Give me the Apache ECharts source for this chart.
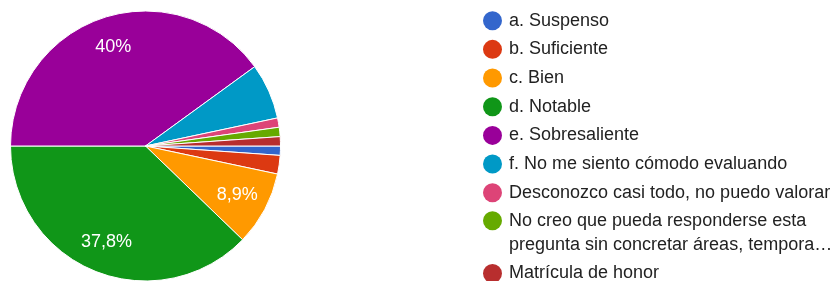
<!DOCTYPE html>
<html>
<head>
<meta charset="utf-8">
<script src="https://cdn.jsdelivr.net/npm/echarts@6/dist/echarts.min.js"></script>
<style>
html,body{margin:0;padding:0;background:#fff;}
#chart{width:835px;height:281px;}
</style>
</head>
<body>
<div id="chart"></div>
<script>
var categories = [
  'a. Suspenso',
  'b. Suficiente',
  'c. Bien',
  'd. Notable',
  'e. Sobresaliente',
  'f. No me siento cómodo evaluando',
  'Desconozco casi todo, no puedo valorar',
  'No creo que pueda responderse esta pregunta sin concretar áreas, tempora…',
  'Matrícula de honor'
];
var counts = [1, 2, 8, 34, 36, 6, 1, 1, 1];
var colors = ['#3366cc', '#dc3912', '#ff9900', '#109618', '#990099', '#0099c6', '#dd4477', '#66aa00', '#b82e2e'];

var total = counts.reduce(function (a, b) { return a + b; }, 0);
function pctText(v) {
  var s = (v / total * 100).toFixed(1);
  if (s.slice(-2) === '.0') s = s.slice(0, -2);
  return s.replace('.', ',') + '%';
}
var pieData = categories.map(function (c, i) {
  return { name: c, value: counts[i], itemStyle: { color: colors[i] } };
});
var labelData = categories.map(function (c, i) {
  return { name: c, value: counts[i] };
});

var FONT = 'Liberation Sans, Arial, sans-serif';
var legendText = { fontFamily: FONT, fontSize: 18, color: '#222', lineHeight: 20, padding: [0, 0, 0, 2] };
var legendItemStyle = { borderWidth: 0 };

var chart = echarts.init(document.getElementById('chart'), null, { renderer: 'canvas' });
chart.setOption({
  backgroundColor: '#fff',
  animation: false,
  legend: [
    {
      orient: 'vertical', left: 483, top: 10.7, padding: 0,
      itemWidth: 19, itemHeight: 19, itemGap: 8.67, icon: 'circle',
      itemStyle: legendItemStyle,
      data: categories.slice(0, 7),
      textStyle: legendText
    },
    {
      orient: 'vertical', left: 483, top: 184.7, padding: 0,
      itemWidth: 19, itemHeight: 19, icon: 'circle',
      itemStyle: legendItemStyle,
      data: [categories[7]],
      formatter: function (n) { return '\n' + n.replace(' pregunta', '\npregunta'); },
      textStyle: { fontFamily: FONT, fontSize: 18, color: '#222', lineHeight: 24, padding: [0, 0, 0, 2] }
    },
    {
      orient: 'vertical', left: 483, top: 263.5, padding: 0,
      itemWidth: 19, itemHeight: 19, icon: 'circle',
      itemStyle: legendItemStyle,
      data: [categories[8]],
      textStyle: legendText
    }
  ],
  series: [
    {
      type: 'pie',
      center: [145.5, 146],
      radius: [0, 135],
      startAngle: 0,
      clockwise: true,
      avoidLabelOverlap: false,
      label: { show: false },
      labelLine: { show: false },
      itemStyle: { borderColor: '#fff', borderWidth: 1 },
      emphasis: { disabled: true },
      data: pieData
    },
    {
      type: 'pie',
      center: [145.5, 146],
      radius: [67, 135],
      startAngle: 0,
      clockwise: true,
      silent: true,
      avoidLabelOverlap: false,
      itemStyle: { color: 'rgba(0,0,0,0)' },
      labelLine: { show: false },
      emphasis: { disabled: true },
      label: {
        show: true,
        position: 'inside',
        fontFamily: FONT,
        fontSize: 18,
        color: '#fff',
        formatter: function (p) {
          return (p.value / total) >= 0.08 ? pctText(p.value) : '';
        }
      },
      data: labelData
    }
  ]
});
</script>
</body>
</html>
